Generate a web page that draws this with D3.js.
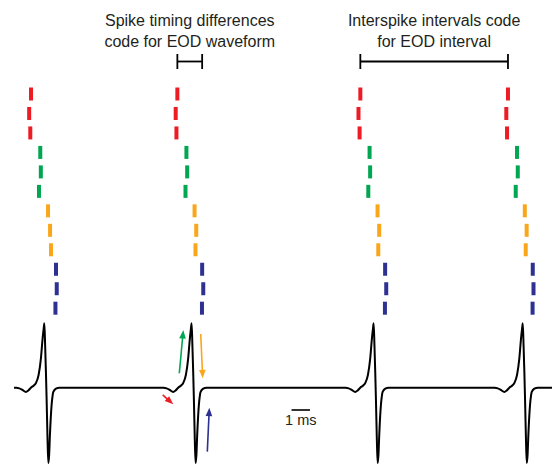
<!DOCTYPE html>
<html><head><meta charset="utf-8">
<script src="https://cdn.jsdelivr.net/npm/d3@7"></script>
<style>body{margin:0;background:#fff} svg{display:block}</style>
</head><body>
<script>
// ---- data (time in ms, waveform in units of peak amplitude) ----
const neuronNames = ["red", "green", "orange", "blue"];
const neuronColors = ["#ED1C24", "#00A651", "#FAA61A", "#2E3192"];
const eodPeaks = [1.64, 9.60, 19.44, 27.50];
// spike times, one row per trial, one value per EOD
const redSpikes = [[0.92, 8.83, 18.72, 26.70], [0.82, 8.74, 18.62, 26.61], [0.88, 8.78, 18.68, 26.65]];
const greenSpikes = [[1.42, 9.32, 19.22, 27.19], [1.45, 9.36, 19.25, 27.23], [1.35, 9.27, 19.15, 27.12]];
const orangeSpikes = [[1.84, 9.76, 19.65, 27.61], [1.95, 9.85, 19.74, 27.71], [2.00, 9.81, 19.69, 27.66]];
const blueSpikes = [[2.27, 10.17, 20.06, 28.04], [2.31, 10.23, 20.12, 28.08], [2.24, 10.16, 20.05, 28.03]];
// EOD waveform template relative to peak
const waveT = [-1.514, -1.351, -1.189, -0.995, -0.865, -0.724, -0.568, -0.454, -0.308, -0.184, -0.092, -0.043, 0, 0.043, 0.086, 0.124, 0.173, 0.216, 0.259, 0.303, 0.395, 0.443, 0.486, 0.627, 0.811];
const waveV = [0, -0.01, -0.035, -0.067, -0.043, 0, 0.034, 0.073, 0.2, 0.46, 0.77, 0.9, 1.0, 0.66, 0.24, -0.19, -0.81, -1.17, -1.05, -0.73, -0.26, -0.13, -0.067, -0.016, 0];
const recordStart = 0, recordEnd = 29.08;
// annotations: arrows [t0, v0, t1, v1] per neuron (tail -> tip)
const arrowRed = [8.04, -0.113, 8.61, -0.258];
const arrowGreen = [8.935, 0.224, 9.151, 0.896];
const arrowOrange = [10.092, 0.834, 10.20, 0.146];
const arrowBlue = [10.449, -0.994, 10.557, -0.311];
const scaleBarMs = [15.0, 16.0];
const labelWaveform = ["Spike timing differences", "code for EOD waveform"];
const labelInterval = ["Interspike intervals code", "for EOD interval"];
const scaleLabel = "1 ms";

// ---- drawing ----
const W = 552, H = 464;
const svg = d3.select("body").append("svg").attr("width", W).attr("height", H);
const x = d3.scaleLinear().domain([recordStart, recordEnd]).range([14, 552]);
const yWave = d3.scaleLinear().domain([-1.15, 1]).range([461.7, 323.3]);
const yRow = d3.scaleLinear().domain([0, 11]).range([94, 308.2]);
const dashH = 13, dashW = 4;

const allRows = [redSpikes, greenSpikes, orangeSpikes, blueSpikes];
const spikes = [];
allRows.forEach((rows, n) => rows.forEach((times, r) => times.forEach((t, e) => {
  spikes.push({ t, row: n * 3 + r, color: neuronColors[n], eod: e });
})));
svg.append("g").selectAll("rect").data(spikes).join("rect")
  .attr("x", d => x(d.t) - dashW / 2)
  .attr("y", d => yRow(d.row) - dashH / 2)
  .attr("width", dashW).attr("height", dashH)
  .attr("fill", d => d.color);

// waveform
const pts = [[recordStart, 0]];
eodPeaks.forEach(p => waveT.forEach((t, i) => {
  const tt = p + t;
  if (tt > recordStart && tt < recordEnd) pts.push([tt, waveV[i]]);
}));
pts.push([recordEnd, 0]);
pts.sort((a, b) => a[0] - b[0]);
svg.append("path").datum(pts)
  .attr("d", d3.line().x(d => x(d[0])).y(d => yWave(d[1])).curve(d3.curveMonotoneX))
  .attr("fill", "none").attr("stroke", "#000").attr("stroke-width", 2).attr("stroke-linejoin", "round");

// arrows
const arrows = [arrowRed, arrowGreen, arrowOrange, arrowBlue];
arrows.forEach((a, i) => {
  const x0 = x(a[0]), y0 = yWave(a[1]), x1 = x(a[2]), y1 = yWave(a[3]);
  const ang = Math.atan2(y1 - y0, x1 - x0);
  const hl = 8.5, hw = 3.3;
  const bx = x1 - hl * Math.cos(ang), by = y1 - hl * Math.sin(ang);
  svg.append("line").attr("x1", x0).attr("y1", y0).attr("x2", bx + 1 * Math.cos(ang)).attr("y2", by + 1 * Math.sin(ang))
    .attr("stroke", neuronColors[i]).attr("stroke-width", 1.6);
  const px = -Math.sin(ang), py = Math.cos(ang);
  svg.append("path")
    .attr("d", `M${x1},${y1}L${bx + hw * px},${by + hw * py}L${bx - hw * px},${by - hw * py}Z`)
    .attr("fill", neuronColors[i]);
});

// brackets
function bracket(t0, t1) {
  const g = svg.append("g").attr("stroke", "#000").attr("stroke-width", 1.8);
  const yb = 61.5;
  g.append("line").attr("x1", x(t0)).attr("x2", x(t1)).attr("y1", yb).attr("y2", yb);
  [t0, t1].forEach(t => g.append("line").attr("x1", x(t)).attr("x2", x(t)).attr("y1", 54).attr("y2", 69));
}
bracket(redSpikes[0][1], blueSpikes[0][1]);
bracket(redSpikes[0][2], redSpikes[0][3]);

function label(lines, cx) {
  const t = svg.append("text").attr("text-anchor", "middle")
    .attr("font-family", "'Liberation Sans', Arial, sans-serif").attr("font-size", 16).attr("fill", "#231F20");
  lines.forEach((s, i) => t.append("tspan").attr("x", cx).attr("y", 25.5 + i * 21.5).text(s));
}
label(labelWaveform, (x(redSpikes[0][1]) + x(blueSpikes[0][1])) / 2);
label(labelInterval, (x(redSpikes[0][2]) + x(redSpikes[0][3])) / 2);

// scale bar
svg.append("line").attr("x1", x(scaleBarMs[0])).attr("x2", x(scaleBarMs[1])).attr("y1", 410).attr("y2", 410)
  .attr("stroke", "#000").attr("stroke-width", 1.6);
svg.append("text").attr("x", (x(scaleBarMs[0]) + x(scaleBarMs[1])) / 2).attr("y", 425)
  .attr("text-anchor", "middle").attr("font-family", "'Liberation Sans', Arial, sans-serif")
  .attr("font-size", 14.5).attr("fill", "#231F20").text(scaleLabel);
</script>
</body></html>
